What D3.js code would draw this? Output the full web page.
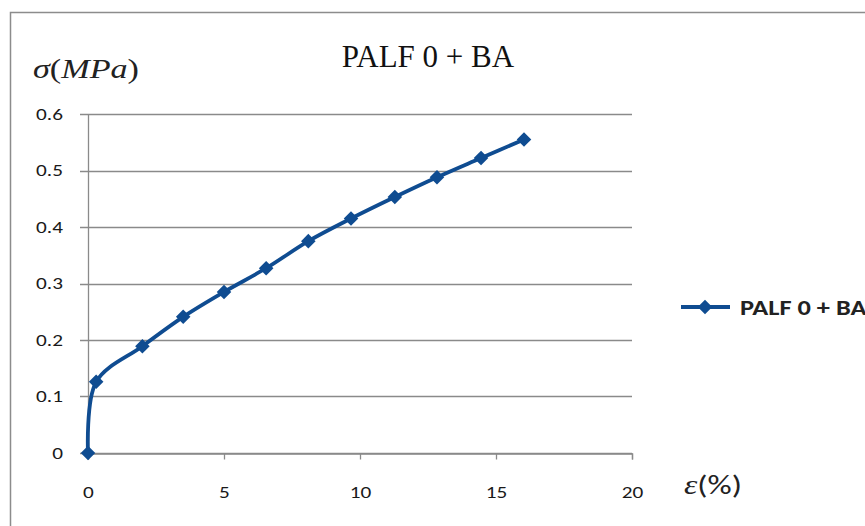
<!DOCTYPE html>
<html><head><meta charset="utf-8">
<script src="https://cdn.jsdelivr.net/npm/d3@7"></script>
<style>html,body{margin:0;padding:0;background:#fff;overflow:hidden}</style>
</head><body>
<svg id="c" width="865" height="526"></svg>
<script>
const strain = [0, 0.3, 2.0, 3.5, 5.0, 6.55, 8.1, 9.67, 11.28, 12.83, 14.45, 16.03];
const stress = [0, 0.126, 0.189, 0.241, 0.285, 0.327, 0.375, 0.415, 0.453, 0.488, 0.522, 0.555];
const xTicks = [0, 5, 10, 15, 20];
const yTicks = [0, 0.1, 0.2, 0.3, 0.4, 0.5, 0.6];
const seriesName = "PALF 0 + BA";
const title = "PALF 0 + BA";

const svg = d3.select("#c");
const color = "#0f4c91";
const sans = "Carlito, 'Open Sans', 'Liberation Sans', sans-serif";
const serif = "'Liberation Serif', 'Times New Roman', serif";
const SX = 1.25;

// outer border
svg.append("rect").attr("x", 10.5).attr("y", 12.5).attr("width", 900).attr("height", 600)
  .attr("fill", "none").attr("stroke", "#8c8c8c").attr("stroke-width", 1.5);

const x = d3.scaleLinear().domain([0, 20]).range([88, 632]);
const y = d3.scaleLinear().domain([0, 0.6]).range([453, 114]);

// gridlines
svg.append("g").selectAll("line").data(yTicks).join("line")
  .attr("x1", 80).attr("x2", 632)
  .attr("y1", d => Math.round(y(d)) + 0.5).attr("y2", d => Math.round(y(d)) + 0.5)
  .attr("stroke", "#8a8a8a").attr("stroke-width", 1.3);

// y axis line
svg.append("line").attr("x1", 88.5).attr("x2", 88.5).attr("y1", y(0.6)).attr("y2", y(0))
  .attr("stroke", "#8a8a8a").attr("stroke-width", 1.3);

// x axis
const xa = svg.append("g").attr("transform", `translate(0,${Math.round(y(0)) + 0.5})`)
  .call(d3.axisBottom(x).tickValues(xTicks).tickSize(6).tickFormat(d3.format("d")));
xa.select(".domain").attr("stroke", "#8a8a8a").attr("stroke-width", 1.3);
xa.selectAll(".tick line").attr("stroke", "#8a8a8a").attr("stroke-width", 1.3);
xa.selectAll("text").attr("font-family", sans).attr("font-size", 17).attr("fill", "#1a1a1a")
  .attr("y", 0).attr("dy", 0)
  .attr("transform", `translate(0,44) scale(${SX},1)`);

// y tick labels
svg.append("g").selectAll("text").data(yTicks).join("text")
  .attr("transform", d => `translate(63,${y(d)}) scale(${SX},1)`).attr("dy", "0.35em")
  .attr("text-anchor", "end").attr("font-family", sans).attr("font-size", 17).attr("fill", "#1a1a1a")
  .text(d => d === 0 ? "0" : d3.format(".1f")(d));

// line
const pts = strain.map((s, i) => [s, stress[i]]);
const line = d3.line().x(d => x(d[0])).y(d => y(d[1])).curve(d3.curveCatmullRom.alpha(0.5));
svg.append("path").datum(pts).attr("d", line).attr("fill", "none")
  .attr("stroke", color).attr("stroke-width", 3.8).attr("stroke-linejoin", "round");

const diamond = d3.symbol().type(d3.symbolDiamond2).size(135);
svg.append("g").selectAll("path").data(pts).join("path")
  .attr("transform", d => `translate(${x(d[0])},${y(d[1])})`)
  .attr("d", diamond).attr("fill", color);

// title
svg.append("text").attr("x", 428).attr("y", 67).attr("text-anchor", "middle")
  .attr("font-family", serif).attr("font-size", 31).attr("fill", "#111").text(title);

// y label
const yl = svg.append("text").attr("transform", "translate(33,78) scale(1.22,1)")
  .attr("font-family", serif).attr("font-size", 28).attr("fill", "#222");
yl.append("tspan").attr("font-style", "italic").text("σ");
yl.append("tspan").text("(");
yl.append("tspan").attr("font-style", "italic").text("MPa");
yl.append("tspan").text(")");

// x label
const xl = svg.append("text").attr("transform", "translate(684,494) scale(1.25,1)")
  .attr("font-size", 27).attr("fill", "#222");
xl.append("tspan").attr("font-family", serif).attr("font-style", "italic").text("ε");
xl.append("tspan").attr("font-family", sans).text("(%)");

// legend
svg.append("line").attr("x1", 681).attr("x2", 730).attr("y1", 307).attr("y2", 307)
  .attr("stroke", color).attr("stroke-width", 3.8);
svg.append("path").attr("transform", "translate(705,307)").attr("d", diamond).attr("fill", color);
svg.append("text").attr("transform", "translate(740,307) scale(1.2,1)").attr("dy", "0.35em")
  .attr("font-family", sans).attr("font-size", 22).attr("font-weight", 600).attr("fill", "#222").text(seriesName);
</script>
</body></html>
